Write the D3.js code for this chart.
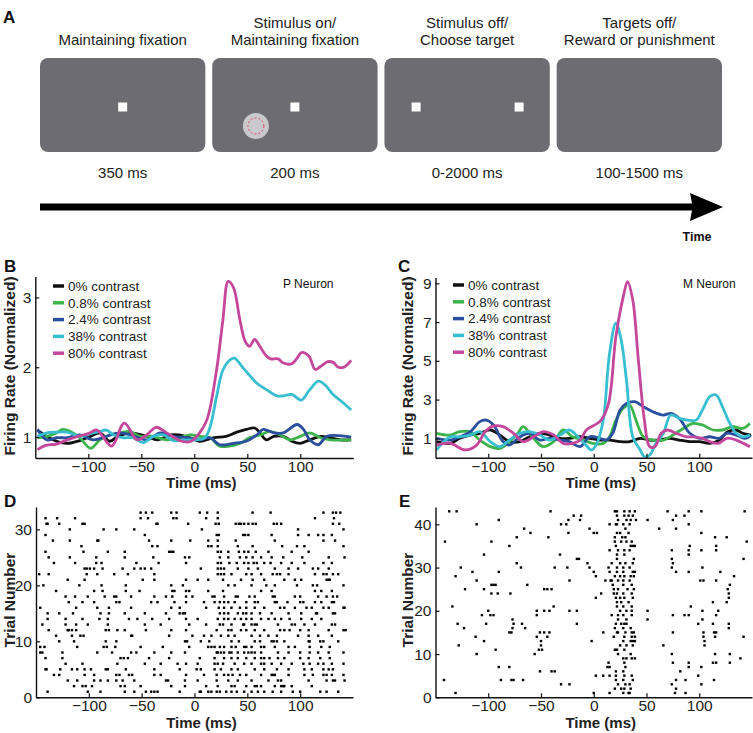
<!DOCTYPE html>
<html><head><meta charset="utf-8">
<script src="https://cdn.jsdelivr.net/npm/d3@7"></script>
<style>body{margin:0;background:#fff;} svg{display:block;font-family:"Liberation Sans",Arial,sans-serif;}</style>
</head><body><svg id="fig" width="753" height="733"></svg>
<script>
// ---------------- DATA ----------------
const epochTitles = [["Maintaining fixation"],["Stimulus on/","Maintaining fixation"],["Stimulus off/","Choose target"],["Targets off/","Reward or punishment"]];
const epochDurations = ["350 ms","200 ms","0-2000 ms","100-1500 ms"];
const seriesNames = ["0% contrast","0.8% contrast","2.4% contrast","38% contrast","80% contrast"];
const seriesColors = ["#111111","#3cb44b","#2a4f9d","#37bfd0","#c4479b"];
const timeTicks = [-100,-50,0,50,100];
const pTicks = [1,2,3];
const mTicks = [1,3,5,7,9];
const dTicks = [0,10,20,30];
const eTicks = [0,10,20,30,40];

// P neuron (panel B) [ms, normalized rate]
const pBlack = [[-148,1.1],[-139,1.01],[-130,0.94],[-120,0.91],[-108,0.95],[-98,1.01],[-89,1.06],[-80,0.94],[-72,1.01],[-60,1.06],[-45,1.01],[-35,0.96],[-22,1.03],[-15,1.03],[-4,0.99],[5,0.94],[18,0.99],[30,1.01],[40,1.07],[49,1.11],[57,1.13],[62,1.06],[68,0.96],[75,1.01],[84,1.01],[92,0.94],[100,0.91],[109,0.96],[119,1.01],[128,0.99],[138,0.96],[148,0.96]];
const pGreen = [[-148,0.99],[-139,1.01],[-130,1.06],[-124,1.11],[-117,1.08],[-108,0.99],[-98,0.84],[-89,0.96],[-80,1.03],[-70,1.06],[-61,1.08],[-51,1.01],[-39,1.01],[-26,0.96],[-14,0.99],[-4,1.03],[5,1.01],[15,0.99],[24,0.87],[33,0.87],[43,0.91],[52,0.99],[62,1.03],[71,1.08],[81,1.03],[90,0.96],[100,1.01],[109,1.06],[119,0.99],[128,0.96],[148,0.96]];
const pBlue = [[-148,1.11],[-139,0.96],[-130,0.99],[-120,0.99],[-108,1.03],[-95,0.96],[-83,1.01],[-70,1.06],[-58,1.02],[-45,0.96],[-32,1.06],[-20,1.01],[-7,0.99],[5,0.96],[15,0.99],[24,0.89],[37,0.91],[49,0.94],[59,1.03],[65,1.11],[75,1.06],[84,1.06],[97,1.18],[103,1.11],[109,0.96],[117,0.89],[125,1.01],[148,1.0]];
const pCyan = [[-148,1.01],[-139,1.06],[-130,1.07],[-120,1.07],[-108,1.01],[-98,1.05],[-89,1.08],[-83,1.1],[-76,1.03],[-67,0.99],[-58,0.99],[-48,0.92],[-39,1.01],[-29,1.03],[-20,0.95],[-7,0.96],[2,0.96],[10,0.99],[15,1.15],[21,1.58],[27,1.96],[34,2.11],[38,2.13],[46,1.99],[53,1.87],[59,1.77],[68,1.68],[78,1.59],[84,1.59],[92,1.61],[101,1.53],[109,1.68],[117,1.8],[123,1.75],[131,1.61],[139,1.51],[148,1.39]];
const pMagenta = [[-148,0.82],[-140,0.88],[-130,0.9],[-120,0.96],[-110,1.01],[-100,1.05],[-92,1.1],[-78,0.87],[-66,1.2],[-54,0.96],[-45,1.03],[-36,1.14],[-26,1.06],[-12,0.94],[-3,0.94],[5,1.06],[12,1.25],[21,1.96],[27,2.68],[32,3.23],[37,3.14],[43,2.68],[48,2.37],[52,2.3],[57,2.4],[61,2.32],[68,2.16],[72,2.12],[79,2.12],[84,2.06],[92,2.05],[97,2.13],[101,2.21],[108,2.16],[114,1.97],[119,2.01],[126,2.08],[131,2.07],[136,2.0],[141,2.0],[148,2.1]];

// M neuron (panel C)
const mBlack = [[-149,0.83],[-136,0.74],[-127,1.0],[-117,1.17],[-108,1.26],[-98,1.43],[-89,1.17],[-80,0.83],[-70,0.83],[-61,1.08],[-51,1.26],[-42,1.17],[-32,1.0],[-23,1.0],[-13,1.08],[-4,1.0],[6,0.91],[15,0.91],[25,0.83],[34,0.83],[44,1.0],[53,0.91],[62,0.91],[72,1.0],[81,0.91],[91,0.83],[100,0.83],[110,0.74],[119,0.91],[127,1.34],[135,1.43],[141,1.26],[149,1.17]];
const mGreen = [[-149,1.26],[-136,1.17],[-127,1.34],[-117,1.34],[-108,0.91],[-98,0.57],[-89,0.48],[-80,0.83],[-72,1.26],[-67,1.6],[-57,1.0],[-48,0.57],[-38,0.83],[-29,1.43],[-20,1.08],[-10,0.91],[-1,0.74],[9,0.74],[15,1.08],[21,1.94],[28,2.55],[34,2.72],[40,1.94],[47,1.08],[56,0.91],[66,0.91],[75,1.17],[85,1.51],[94,1.77],[103,1.69],[113,1.43],[122,1.43],[132,1.6],[141,1.51],[148,1.77]];
const mBlue = [[-149,1.0],[-136,0.91],[-127,1.08],[-117,1.34],[-108,1.86],[-102,1.94],[-95,1.69],[-86,0.83],[-80,0.65],[-70,1.08],[-61,1.26],[-51,0.91],[-42,1.0],[-32,0.91],[-23,0.83],[-13,0.57],[-4,1.08],[6,1.0],[12,0.91],[18,1.26],[25,2.46],[31,2.8],[39,2.89],[47,2.63],[56,2.37],[66,2.2],[73,2.29],[81,2.03],[91,1.26],[100,1.0],[110,1.08],[119,1.0],[126,1.26],[135,1.17],[144,1.0],[149,1.17]];
const mCyan = [[-149,0.4],[-136,1.08],[-127,1.08],[-117,1.17],[-108,1.34],[-98,0.83],[-89,0.57],[-80,0.91],[-70,1.26],[-61,1.34],[-51,1.17],[-42,0.91],[-32,1.17],[-23,1.43],[-15,1.08],[-9,0.74],[-2,0.4],[3,0.74],[9,1.94],[15,5.39],[21,6.94],[26,6.08],[31,4.01],[37,1.08],[44,0.4],[48,0.05],[53,0.14],[59,0.74],[66,1.26],[73,2.2],[81,2.03],[89,1.94],[97,1.94],[103,2.46],[110,3.15],[116,3.24],[122,2.63],[129,1.77],[135,1.26],[141,1.08],[148,1.17]];
const mMagenta = [[-149,0.65],[-136,0.74],[-122,0.4],[-111,0.65],[-103,1.34],[-95,1.64],[-86,1.6],[-76,1.26],[-67,0.83],[-57,1.08],[-48,1.34],[-38,1.17],[-29,0.74],[-20,0.74],[-13,0.91],[-7,1.43],[1,1.69],[7,1.94],[14,2.8],[21,6.25],[28,8.31],[32,9.09],[37,8.14],[42,5.22],[48,1.94],[53,0.57],[58,0.57],[64,1.26],[70,1.43],[78,1.26],[88,1.08],[94,1.08],[103,1.0],[110,0.83],[118,0.74],[126,1.0],[135,0.91],[148,0.57]];

// Raster D (P neuron, 80% contrast): [trial, spike times ms]
const rasterD = [
[33,[-51,-46,-40,-22,-17,5,12,22,55,72,122,131,134,138]],
[32,[-141,-130,-113,-51,-44,-20,-17,11,22,114,132]],
[31,[-140,-139,-128,-106,-104,-36,-35,-6,20,23,39,42,44,47,51,55,58,75,78,82,131,137]],
[30,[-118,-86,-74,-57,7,98,141]],
[29,[-141,-47,21,23,46,48,51,73,98,108,117,122,130]],
[28,[-134,-118,-92,-91,-43,-22,-4,13,22,39,76,122,133]],
[27,[-107,-40,-35,13,16,22,41,55,83,97,104,141]],
[26,[-141,-105,-82,-66,-24,-22,-20,22,25,32,42,47,51,58,70,92,108]],
[25,[-138,-118,-93,-66,-39,-9,-5,24,32,43,49,55,63,73,84,102,127,142]],
[24,[-133,-113,-93,-88,-55,-34,-8,22,25,33,40,47,51,56,59,66,72,82,92,104,122,130]],
[23,[-104,-102,-99,-95,-87,-68,-57,-51,-47,-41,6,22,25,28,41,51,60,76,89,98,112,117,127]],
[22,[-147,-138,-102,-92,-76,-63,-38,22,25,28,35,49,54,63,74,78,81,89,114,122,125,131,136]],
[21,[-120,-104,-49,-38,-8,3,13,27,44,55,66,85,95,101,125,127,128]],
[20,[-143,-109,-88,-65,-22,-11,32,38,54,68,76,97,112,116,141]],
[19,[-131,-95,-87,-65,-52,-21,-19,-8,-5,13,27,63,73,114,120,130]],
[18,[-122,-113,-101,-85,-76,-74,-60,-38,-27,-21,-8,-2,17,19,28,39,41,52,57,74,76,95,100,117,125,131,135]],
[17,[-119,-106,-95,-74,-71,-41,-35,-19,-8,9,19,24,28,32,38,49,57,60,76,78,88,100,103,114,120,130,132]],
[16,[-146,-112,-92,-81,-60,-22,-14,11,23,28,35,43,49,57,66,81,85,95,106,111,122,127,141,142]],
[15,[-139,-128,-115,-89,-81,-66,-47,-27,-14,-11,-9,24,28,32,41,46,49,54,62,73,89,101,115,116,131,133]],
[14,[-139,-122,-106,-90,-82,-62,-54,-40,-24,-8,3,22,28,32,38,44,49,54,63,70,76,82,90,101,111,120]],
[13,[-144,-122,-112,-101,-82,-47,-32,-5,11,24,27,35,46,47,54,57,59,79,92,95,104,114,130,133]],
[12,[-138,-120,-119,-116,-112,-84,-81,-73,-66,-46,-22,-8,21,32,35,44,49,57,66,81,85,90,100,108,127,141,143]],
[11,[-131,-116,-108,-105,-60,-59,-24,-2,9,16,25,32,38,54,62,70,78,98,108,117,130]],
[10,[-128,-114,-84,-74,-9,-7,6,14,35,42,57,62,73,75,78,85,108,109,119,122,136]],
[9,[-146,-142,-111,-86,-83,-75,-51,-30,-5,13,16,19,24,28,35,39,47,49,54,63,66,76,89,95,109,120,128]],
[8,[-146,-144,-125,-92,-78,-60,-55,-38,-22,-9,21,22,25,28,33,35,41,47,51,54,57,63,79,89,100,109,117,127,141]],
[7,[-141,-125,-70,-67,-63,-43,-24,5,19,28,35,41,49,57,63,66,71,79,85,100,108,119,128]],
[6,[-122,-106,-73,-47,-32,-16,-8,3,19,22,27,38,47,54,63,66,73,82,92,103,109,117,122,130,141]],
[5,[-141,-140,-127,-116,-111,-104,-98,-84,-82,-65,-38,-14,2,6,19,25,35,41,57,66,78,89,104,111,122,127,131]],
[4,[-133,-128,-104,-95,-74,-71,-62,-59,-38,-32,-8,9,21,28,32,36,43,49,63,73,74,76,89,104,112,122,125,130,141]],
[3,[-120,-111,-95,-89,-82,-74,-68,-57,-27,-25,-9,3,21,32,41,54,70,79,82,108,125,131,133,142]],
[2,[-114,-106,-103,-97,-70,-66,-51,-22,-9,11,22,35,38,49,57,59,63,76,82,84,85,92,111]],
[1,[-139,-101,-89,-66,-57,-46,-41,-38,-35,-14,5,6,13,16,21,24,30,35,40,47,54,60,66,74,82,93,100,119,125,136]]
];

// Raster E (M neuron, 80% contrast)
const rasterE = [
[43,[-137,-130,-41,20,22,29,34,39,70,90,102,143]],
[42,[-19,-12,22,29,33,37,78,86]],
[41,[-90,-24,-13,23,31,35,40,51,75]],
[40,[-111,-31,-26,15,21,22,28,34,90]],
[39,[-66,-4,30,62,78]],
[38,[-60,-24,0,3,22,25,33,102]],
[37,[-73,-43,20,27,30,115,126]],
[36,[-141,-97,20,26,31,36,145]],
[35,[-80,21,35,37,39,91,116]],
[34,[15,23,29,34,74,90,102,116]],
[33,[-104,-32,22,29,90]],
[32,[-16,-14,22,38,74,142]],
[31,[-73,-6,17,25,30,37,75]],
[30,[-126,-69,-37,-25,-4,14,22,28,34,74,103]],
[29,[-115,-90,0,15,22,28,37,39,78,90,120]],
[28,[-131,2,20,25,29,35,38,133]],
[27,[-111,-23,11,16,17,23,28,34,101,104,116]],
[26,[-97,-95,-93,-63,18,28,36,129]],
[25,[-122,-104,-47,-44,-40,19,23,32,38,127]],
[24,[-97,-91,-79,7,19,22,28,36,128]],
[23,[2,21,25,29,37,128]],
[22,[22,26,33,113,126]],
[21,[-134,-38,22,28,36,92]],
[20,[-100,-54,-47,-42,-23,-16,25,31,36,51,103,118]],
[19,[-106,-98,-95,-54,17,23,28,36,75,86,90,116]],
[18,[-77,23,31,51,103]],
[17,[-129,-102,-76,-68,-16,21,26,29,31,99,113,128]],
[16,[-123,-77,-65,20,28,35,128]],
[15,[-80,-78,-51,-47,-42,9,22,23,30,36,38,75,104,114,116]],
[14,[-112,-54,-44,19,29,36,39,104,115,142]],
[13,[-104,-50,-2,28,35,37,39,105]],
[12,[-128,-50,25,31,37,66,105]],
[11,[-93,-52,-49,20,22,29]],
[10,[-111,-56,23,35,74,115,129]],
[9,[28,31,36,39,139]],
[8,[14,29,75,90,113,116,129]],
[7,[-90,-80,13,15,30,90,102]],
[6,[-51,-40,-37,21,28,82]],
[5,[2,9,15,21,29,36,99]],
[4,[-142,-88,-78,-76,-67,21,28,37,78,87,114]],
[3,[-31,-23,23,30,34,74,102]],
[2,[20,26,29,35,78]],
[1,[-131,0,15,28,33,34,77,87]]
];

// ---------------- DRAW ----------------
const svg = d3.select("#fig");
const FONT_TICK = 15.5, FONT_LAB = 15;

function panelLetter(txt, x, y) {
  svg.append("text").attr("x", x).attr("y", y).attr("font-weight", "bold")
    .attr("font-size", 17).attr("fill", "#111").text(txt);
}

// ---- Panel A ----
panelLetter("A", 3, 23);
const band = d3.scaleBand().domain(d3.range(4)).range([40, 722]).paddingInner(0.04).paddingOuter(0);
const boxTop = 58, boxH = 94, boxMid = boxTop + 49;
const gA = svg.append("g");
d3.range(4).forEach(i => {
  const x0 = band(i), w = band.bandwidth(), cx = x0 + w / 2;
  gA.append("rect").attr("x", x0).attr("y", boxTop).attr("width", w).attr("height", boxH)
    .attr("rx", 8).attr("fill", "#6d6c72");
  const lines = epochTitles[i];
  lines.forEach((t, k) => {
    gA.append("text").attr("x", cx).attr("y", 45 - (lines.length - 1 - k) * 17)
      .attr("text-anchor", "middle").attr("font-size", 15).attr("fill", "#222").text(t);
  });
  gA.append("text").attr("x", cx).attr("y", 178).attr("text-anchor", "middle")
    .attr("font-size", 15).attr("fill", "#222").text(epochDurations[i]);
  const sq = (x) => gA.append("rect").attr("x", x - 4.5).attr("y", boxMid - 4.5).attr("width", 9).attr("height", 9).attr("fill", "#fff");
  if (i === 0 || i === 1) sq(cx);
  if (i === 2) { sq(cx - 51); sq(cx + 52); }
  if (i === 1) {
    gA.append("circle").attr("cx", cx - 39).attr("cy", boxMid + 19).attr("r", 13).attr("fill", "#c9c9cd");
    gA.append("circle").attr("cx", cx - 39).attr("cy", boxMid + 19).attr("r", 8).attr("fill", "none")
      .attr("stroke", "#e2435a").attr("stroke-width", 1).attr("stroke-dasharray", "2,2");
  }
});
// time arrow
gA.append("path").attr("d", "M40,203.5 L692,203.5 L690,193 L723,207 L690,221 L692,210.5 L40,210.5 Z").attr("fill", "#000");
gA.append("text").attr("x", 697).attr("y", 241).attr("text-anchor", "middle").attr("font-weight", "bold")
  .attr("font-size", 12.5).attr("fill", "#111").text("Time");

// ---- helpers ----
function drawAxes(g, x, y, yTicks, xLabelCx, xLabelY, yLabel, yLabelX, yLabelCy) {
  const ax = g.append("g").attr("transform", `translate(0,${y.range()[0]})`)
    .call(d3.axisBottom(x).tickValues(timeTicks).tickSizeInner(-4).tickSizeOuter(0).tickPadding(3));
  const ay = g.append("g").attr("transform", `translate(${x.range()[0]},0)`)
    .call(d3.axisLeft(y).tickValues(yTicks).tickFormat(d3.format("d")).tickSizeInner(-4).tickSizeOuter(0).tickPadding(4));
  [ax, ay].forEach(a => {
    a.select(".domain").attr("stroke", "#111").attr("stroke-width", 1.4);
    a.selectAll(".tick line").attr("stroke", "#111").attr("stroke-width", 1.2);
    a.selectAll(".tick text").attr("font-size", FONT_TICK).attr("fill", "#222")
      .attr("font-family", '"Liberation Sans",Arial,sans-serif');
  });
  g.append("text").attr("x", xLabelCx).attr("y", xLabelY).attr("text-anchor", "middle")
    .attr("font-weight", "bold").attr("font-size", FONT_LAB).attr("fill", "#222").text("Time (ms)");
  g.append("text").attr("transform", `translate(${yLabelX},${yLabelCy}) rotate(-90)`).attr("text-anchor", "middle")
    .attr("font-weight", "bold").attr("font-size", FONT_LAB + 0.5).attr("fill", "#222").text(yLabel);
}

function ratePanel(id, x, y, series, yTicks, title, legX, legY0, titleX, yLabelX) {
  const g = svg.append("g");
  const clipId = "clip" + id;
  g.append("clipPath").attr("id", clipId).append("rect")
    .attr("x", x.range()[0]).attr("y", y.range()[1] - 2)
    .attr("width", x.range()[1] - x.range()[0]).attr("height", y.range()[0] - y.range()[1] + 2);
  const line = d3.line().x(d => x(d[0])).y(d => y(d[1])).curve(d3.curveCatmullRom.alpha(0.5));
  const lg = g.append("g").attr("clip-path", `url(#${clipId})`);
  series.forEach((s, i) => {
    lg.append("path").datum(s).attr("d", line).attr("fill", "none")
      .attr("stroke", seriesColors[i]).attr("stroke-width", 2.8).attr("stroke-linejoin", "round");
  });
  drawAxes(g, x, y, yTicks, (x.range()[0] + x.range()[1]) / 2 + 7, 488,
    "Firing Rate (Normalized)", yLabelX, 366);
  seriesNames.forEach((n, i) => {
    const yy = legY0 + i * 16.8;
    g.append("line").attr("x1", legX).attr("x2", legX + 11).attr("y1", yy).attr("y2", yy)
      .attr("stroke", seriesColors[i]).attr("stroke-width", 3.5);
    g.append("text").attr("x", legX + 15).attr("y", yy + 4.8).attr("font-size", 13.5).attr("fill", "#222").text(n);
  });
  g.append("text").attr("x", titleX).attr("y", 288).attr("font-size", 12).attr("fill", "#111").text(title);
}

function rasterPanel(data, x, y, yTicks, yLabelX) {
  const g = svg.append("g");
  data.forEach(([trial, times]) => {
    times.forEach(t => {
      g.append("rect").attr("x", x(t) - 1.2).attr("y", y(trial) - 1.2).attr("width", 2.4).attr("height", 2.4).attr("fill", "#000");
    });
  });
  drawAxes(g, x, y, yTicks, (x.range()[0] + x.range()[1]) / 2 + 7, 728, "Trial Number", yLabelX, 600);
}

// ---- Panel B ----
panelLetter("B", 4, 272);
const xB = d3.scaleLinear().domain([-150, 150]).range([35.3, 353.3]);
const yB = d3.scaleLinear().domain([0.7, 3.3]).range([458, 276.5]);
ratePanel("B", xB, yB, [pBlack, pGreen, pBlue, pCyan, pMagenta], pTicks, "P Neuron", 53, 286, 283, 14.5);

// ---- Panel C ----
panelLetter("C", 398, 272);
const xC = d3.scaleLinear().domain([-150, 150]).range([435.5, 752]);
const yC = d3.scaleLinear().domain([0, 9.3]).range([457.7, 277.5]);
ratePanel("C", xC, yC, [mBlack, mGreen, mBlue, mCyan, mMagenta], mTicks, "M Neuron", 453, 285, 683, 413);

// ---- Panel D ----
panelLetter("D", 4, 507);
const xD = d3.scaleLinear().domain([-150, 150]).range([36, 353]);
const yD = d3.scaleLinear().domain([0, 34]).range([697.3, 507]);
rasterPanel(rasterD, xD, yD, dTicks, 14.5);

// ---- Panel E ----
panelLetter("E", 399, 507);
const xE = d3.scaleLinear().domain([-150, 150]).range([435.5, 752]);
const yE = d3.scaleLinear().domain([0, 44]).range([697.3, 507]);
rasterPanel(rasterE, xE, yE, eTicks, 413);
</script>
</body></html>
